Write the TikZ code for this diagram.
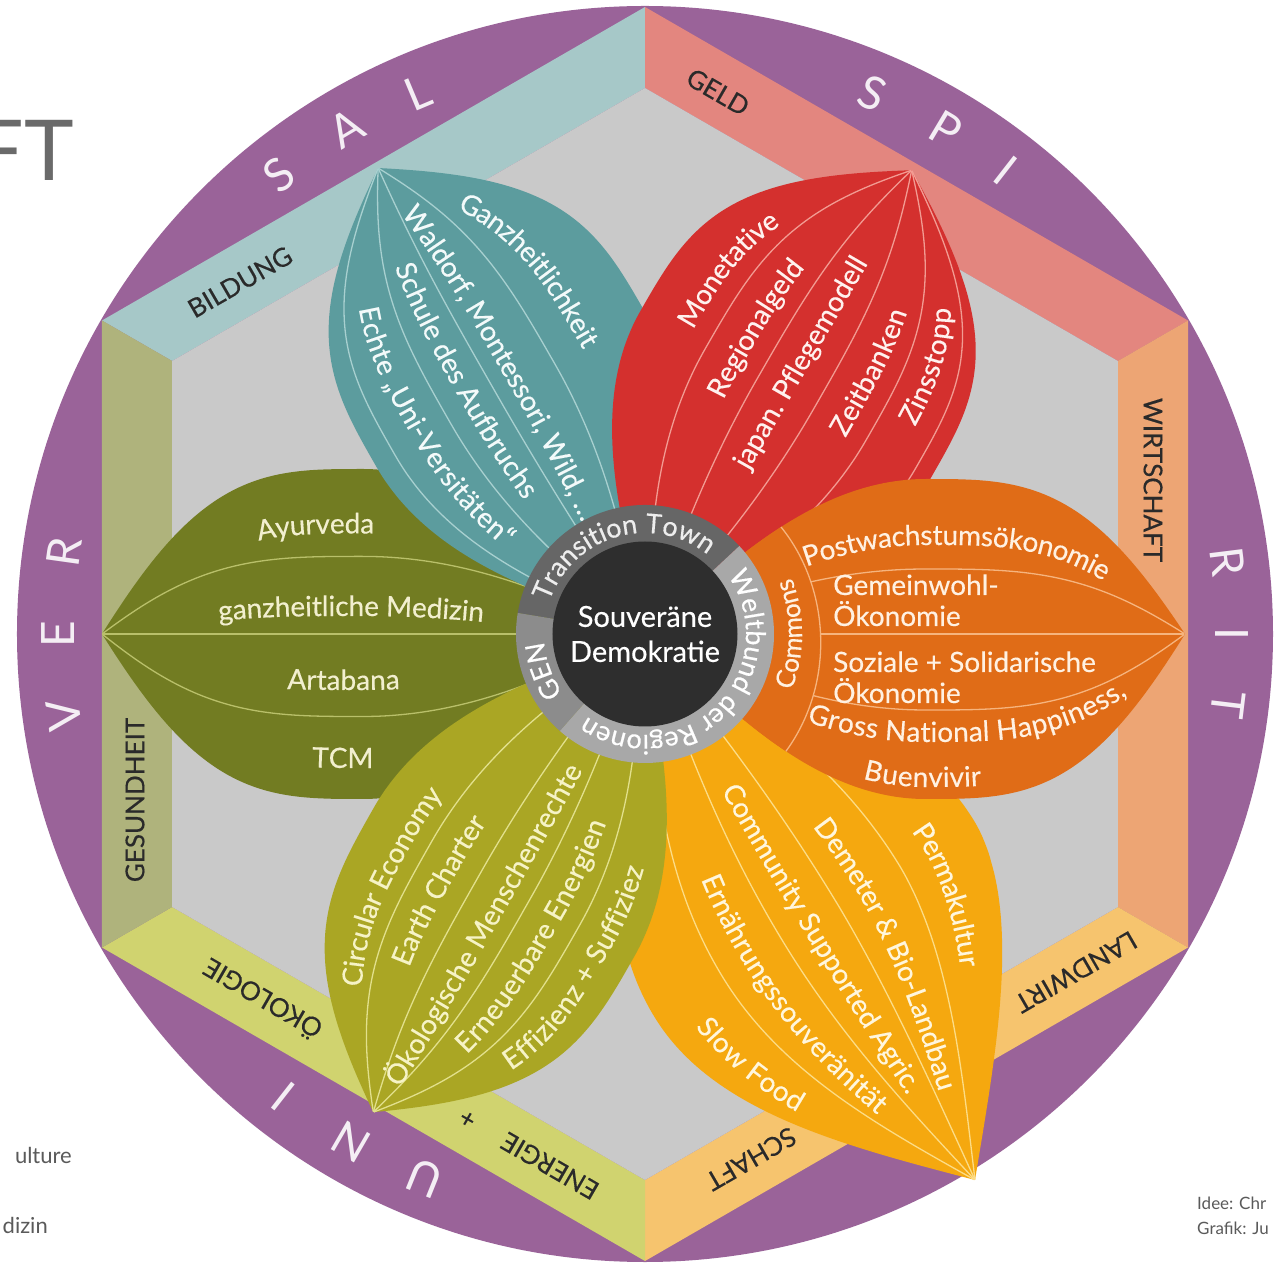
\documentclass[tikz,border=0pt]{standalone}
\usepackage{fontspec}
\setmainfont{Lato}
\newfontfamily\medfont{Lato}[FakeBold=0.35]
\usetikzlibrary{decorations.text}
\definecolor{cPurple}{HTML}{9A6399}
\definecolor{cGrayIn}{HTML}{C9C9C9}
\definecolor{bBild}{HTML}{A6C8C8}
\definecolor{bGeld}{HTML}{E3867F}
\definecolor{bWirt}{HTML}{EDA574}
\definecolor{bLand}{HTML}{F6C46E}
\definecolor{bOeko}{HTML}{D0D36F}
\definecolor{bGes}{HTML}{AFB37C}
\definecolor{pOlive}{HTML}{727C22}
\definecolor{pTeal}{HTML}{5C9C9E}
\definecolor{pRed}{HTML}{D4302E}
\definecolor{pOrange}{HTML}{E06C17}
\definecolor{pYellow}{HTML}{F5A80F}
\definecolor{pGreen}{HTML}{AAA624}
\definecolor{tOlive}{HTML}{F2EFCF}
\definecolor{tTeal}{HTML}{F3FAFA}
\definecolor{tRed}{HTML}{FFF1EE}
\definecolor{tOrange}{HTML}{FFF1E2}
\definecolor{tYellow}{HTML}{FFF6DD}
\definecolor{tGreen}{HTML}{F6F3C6}
\definecolor{lOlive}{HTML}{B9C06A}
\definecolor{lTeal}{HTML}{A8D0D0}
\definecolor{lRed}{HTML}{F29B92}
\definecolor{lOrange}{HTML}{F6B47E}
\definecolor{lYellow}{HTML}{FCDC86}
\definecolor{lGreen}{HTML}{E2E08C}
\definecolor{ringTT}{HTML}{666666}
\definecolor{ringWB}{HTML}{A8A8A8}
\definecolor{ringGEN}{HTML}{8C8C8C}
\definecolor{cDark}{HTML}{2E2E2E}
\definecolor{bandText}{HTML}{2A2A2A}
\definecolor{uniText}{HTML}{F4EEF4}
\definecolor{ftGray}{HTML}{6A6A6A}
\definecolor{smallGray}{HTML}{5A5A5A}

% petal outline: L, W+ , exponent+, W-, exponent-
\newcommand\petalshape[5]{plot[domain=0:1,samples=120] ({#1*\x},{#2*pg(\x,#3)}) -- plot[domain=0:1,samples=120] ({#1*(1-\x)},{-#4*pg(1-\x,#5)}) -- cycle}
% meridian: L, H, exponent
\newcommand\mer[3]{plot[smooth,domain=0:1,samples=70] ({#1*\x},{#2*pg(\x,#3)})}
\newcommand\ptfont{\medfont\fontsize{28}{28}\selectfont}
\newcommand\ringfont{\medfont\fontsize{27}{27}\selectfont}
% text along a meridian: L, H, exponent, t1, t2, text  (base -> tip)
\newcommand\ptx[6]{\path[decorate,decoration={text along path,text align=center,raise=-10pt,text color=\ptcol,text={|\ptfont|#6}}] plot[domain=#4:#5,samples=60] ({#1*\x},{#2*pg(\x,#3)});}
% same, read tip -> base
\newcommand\ptxr[6]{\path[decorate,decoration={text along path,text align=center,raise=-10pt,text color=\ptcol,text={|\ptfont|#6}}] plot[domain=#4:#5,samples=60] ({#1*(#4+#5-\x)},{#2*pg(#4+#5-\x,#3)});}

\tikzset{
  lw/.style={line width=1.3pt},
  bandlabel/.style={font=\medfont\fontsize{26}{26}\selectfont, text=bandText, inner sep=0pt},
  uniletter/.style={font=\fontsize{46}{46}\selectfont, text=uniText, inner sep=0pt},
  straighttext/.style={font=\ptfont, text=tOrange, inner sep=0pt, anchor=base west}
}

\begin{document}
\begin{tikzpicture}[x=1pt,y=1pt,
  declare function={pg(\q,\e)=(\q<0.52)*((max(0,1-((0.52-\q)/0.52)^2)+0.00001)^1.2)+(1-(\q<0.52))*cos(90*((abs(\q-0.52)/0.48+0.0001)^\e));}]
\useasboundingbox (-645,-631) rectangle (634,634);
\clip (-645,-631) rectangle (634,634);
\fill[white] (-645,-631) rectangle (634,634);

% outer purple disc
\fill[cPurple] (0,0) circle (628);

% hexagon bands
\fill[bBild] (150:627) -- (90:627) -- (90:546) -- (150:546) -- cycle;
\fill[bGeld] (90:627) -- (30:627) -- (30:546) -- (90:546) -- cycle;
\fill[bWirt] (30:627) -- (-30:627) -- (-30:546) -- (30:546) -- cycle;
\fill[bLand] (-30:627) -- (-90:627) -- (-90:546) -- (-30:546) -- cycle;
\fill[bOeko] (-90:627) -- (-150:627) -- (-150:546) -- (-90:546) -- cycle;
\fill[bGes] (150:627) -- (210:627) -- (210:546) -- (150:546) -- cycle;
\fill[cGrayIn] (90:546) -- (150:546) -- (210:546) -- (270:546) -- (330:546) -- (30:546) -- cycle;

% band labels
\node[bandlabel,rotate=30] (lBild) at (-405,352) {BILDUNG};
\node[bandlabel,rotate=-30] (lGeld) at (73,542) {GELD};
\node[bandlabel,rotate=-90] (lWirt) at (508,154) {WIRTSCHAFT};
\node[bandlabel,rotate=210] (lLand) at (431,-338) {LANDWIRT};
\node[bandlabel,rotate=210] (lSchaft) at (106,-525) {SCHAFT};
\node[bandlabel,rotate=150] (lOeko) at (-383,-366) {ÖKOLOGIE};
\node[bandlabel,rotate=150] (lEnergie) at (-95,-532) {ENERGIE};
\node[bandlabel,rotate=150] (lPlus) at (-177,-484) {+};
\node[bandlabel,rotate=90] (lGes) at (-510,-166) {GESUNDHEIT};

% UNIVERSAL / SPIRIT letters
\foreach \a/\l [count=\i] in {248/U,240/N,232/I,188/V,180/E,172/R,128.6/S,120.6/A,112.8/L,67.2/S,59.2/P,52.1/I,7.1/R,0/I,-6.9/T}
  \node[uniletter,rotate=\a-90] (uni\i) at (\a:587) {\l};

% ---------- petals ----------
% olive (left)
\begin{scope}[rotate=180]
  \fill[pOlive] \petalshape{543}{165}{1.6}{165}{1.6};
  \foreach \h in {-77.6,0,82.5} \draw[lOlive,lw] \mer{543}{\h}{1.6};
  \def\ptcol{tOlive}
  \ptxr{543}{-110.6}{1.6}{0.22}{0.96}{Ayurveda}
  \ptxr{543}{-28}{1.6}{0.10}{0.98}{ganzheitliche Medizin}
  \ptxr{543}{46}{1.6}{0.147}{0.958}{Artabana}
  \ptxr{543}{124}{1.6}{0.18}{0.917}{TCM}
\end{scope}

% yellow (lower right)
\begin{scope}[rotate=-58.85]
  \fill[pYellow] \petalshape{638}{185}{0.9}{190}{1.0};
  \foreach \h/\e in {98/0.9,25/0.9,-41/1.0,-111/1.0} \draw[lYellow,lw] \mer{638}{\h}{\e};
  \def\ptcol{tYellow}
  \ptx{638}{137}{0.9}{0.354}{0.824}{Permakultur}
  \ptx{638}{58}{0.9}{0.263}{0.984}{Demeter {\&} Bio-Landbau}
  \ptx{638}{-8}{1.0}{0.129}{0.975}{Community Supported Agric.}
  \ptx{638}{-76}{1.0}{0.224}{0.976}{Ernährungssouveränität}
  \ptx{638}{-152}{1.0}{0.415}{0.885}{Slow Food}
\end{scope}

% teal (upper left)
\begin{scope}[rotate=119.8]
  \fill[pTeal] \petalshape{537}{150}{1.6}{160}{1.6};
  \foreach \h in {-56,9.6,64,128} \draw[lTeal,lw] \mer{537}{\h}{1.6};
  \def\ptcol{tTeal}
  \ptxr{537}{-97.6}{1.6}{0.36}{0.993}{Ganzheitlichkeit}
  \ptxr{537}{-16}{1.6}{0.147}{0.996}{Waldorf, Montessori, Wild, …}
  \ptxr{537}{34}{1.6}{0.149}{0.998}{Schule des Aufbruchs}
  \ptxr{537}{94}{1.6}{0.056}{0.987}{Echte „Uni-Versitäten“}
\end{scope}

% green (lower left)
\begin{scope}[rotate=240.4]
  \fill[pGreen] \petalshape{550}{150}{1.6}{150}{1.6};
  \foreach \h in {-83,-25,31,87} \draw[lGreen,lw] \mer{550}{\h}{1.6};
  \def\ptcol{tGreen}
  \ptxr{550}{-109.3}{1.6}{0.246}{0.974}{Circular Economy}
  \ptxr{550}{-56}{1.6}{0.26}{0.915}{Earth Charter}
  \ptxr{550}{4.6}{1.6}{0.213}{0.995}{Ökologische Menschenrechte}
  \ptxr{550}{58.5}{1.6}{0.164}{0.983}{Erneuerbare Energien}
  \ptxr{550}{115.6}{1.6}{0.164}{0.982}{Effizienz + Suffiziez}
\end{scope}

% red (upper right)
\begin{scope}[rotate=60.1]
  \fill[pRed] \petalshape{535}{165}{1.6}{170}{1.6};
  \foreach \h in {90,30,-34,-95,-152} \draw[lRed,lw] \mer{535}{\h}{1.6};
  \def\ptcol{tRed}
  \ptx{535}{120}{1.6}{0.284}{0.994}{Monetative}
  \ptx{535}{60}{1.6}{0.189}{0.993}{Regionalgeld}
  \ptx{535}{1.7}{1.6}{0.174}{0.996}{japan. Pflegemodell}
  \ptx{535}{-66}{1.6}{0.26}{0.988}{Zeitbanken}
  \ptx{535}{-121}{1.6}{0.338}{0.993}{Zinsstopp}
\end{scope}

% orange (right)
\begin{scope}
  \fill[pOrange] \petalshape{540}{155}{1.6}{165}{1.6};
  \begin{scope}
    \clip \petalshape{540}{155}{1.6}{165}{1.6};
    \foreach \h in {65,0,-76} \draw[lOrange,lw] \mer{540}{\h}{1.6};
    \fill[pOrange] (100,140) .. controls (193,78) and (205,-72) .. (110,-150) -- (-100,-200) -- (-100,200) -- cycle;
    \draw[lOrange,lw] (100,140) .. controls (193,78) and (205,-72) .. (110,-150);
  \end{scope}
  \def\ptcol{tOrange}
  \ptx{540}{99}{1.6}{0.139}{0.991}{Postwachstumsökonomie}
  \ptx{540}{-98}{1.6}{0.172}{0.994}{Gross National Happiness,}
  \ptx{540}{-143}{1.6}{0.241}{0.796}{Buenvivir}
  \path[decorate,decoration={text along path,text align=center,text color=tOrange,text={|\medfont\fontsize{26}{26}\selectfont|Commons}}] (-30:157) arc[start angle=-30,end angle=30,radius=157];
  \node[straighttext] (gem1) at (188,39) {Gemeinwohl-};
  \node[straighttext] (gem2) at (188,8) {Ökonomie};
  \node[straighttext] (soz1) at (188,-38) {Soziale + Solidarische};
  \node[straighttext] (soz2) at (188,-69) {Ökonomie};
\end{scope}

% ---------- centre ring ----------
\fill[ringTT] (0,0) -- (170.6:129) arc[start angle=170.6,end angle=43,radius=129] -- cycle;
\fill[ringWB] (0,0) -- (43:129) arc[start angle=43,end angle=-131.3,radius=129] -- cycle;
\fill[ringGEN] (0,0) -- (228.7:129) arc[start angle=228.7,end angle=170.6,radius=129] -- cycle;
\fill[cDark] (0,0) circle (92.5);
\path[decorate,decoration={text along path,text align=center,text color=white!93!black,text={|\ringfont|Transition Town}}] (168:101) arc[start angle=168,end angle=45,radius=101];
\path[decorate,decoration={text along path,text align=center,text color=white,text={|\ringfont|Weltbund der Regionen}}] (41:101) arc[start angle=41,end angle=-131,radius=101];
\path[decorate,decoration={text along path,text align=center,text color=white,text={|\ringfont|GEN}}] (226:101) arc[start angle=226,end angle=174,radius=101];
\node[align=center,font=\medfont\fontsize{29}{35}\selectfont,text=white,inner sep=0pt] (centre) at (0,0) {Souveräne\\Demokratie};

% ---------- cut-off side texts ----------
\node[anchor=east,font=\fontsize{84}{84}\selectfont,text=ftGray,inner sep=0pt] (ft) at (-571,484) {FT};
\node[anchor=east,font=\fontsize{22}{22}\selectfont,text=smallGray,inner sep=0pt] (ulture) at (-573,-521) {ulture};
\node[anchor=east,font=\fontsize{22}{22}\selectfont,text=smallGray,inner sep=0pt] (dizin) at (-597,-591) {dizin};
\node[anchor=west,font=\fontsize{17}{17}\selectfont,text=smallGray,inner sep=0pt] (idee) at (552,-569) {Idee: Chr};
\node[anchor=west,font=\fontsize{17}{17}\selectfont,text=smallGray,inner sep=0pt] (grafik) at (552,-594) {Grafik: Ju};
\end{tikzpicture}
\end{document}
